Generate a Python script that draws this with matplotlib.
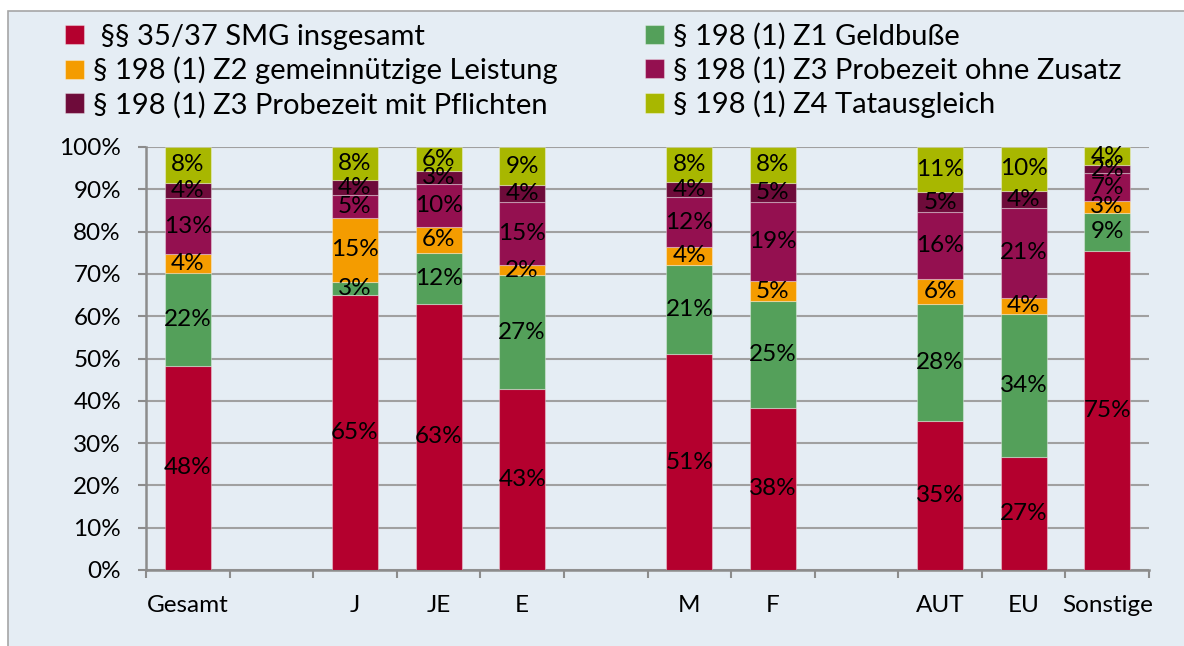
import numpy as np
import matplotlib.pyplot as plt
from matplotlib.patches import Rectangle

plt.rcParams["font.family"] = ["Lato", "DejaVu Sans"]

# ── data (shares in %) ────────────────────────────────────────────────────
categories = ["Gesamt", "J", "JE", "E", "M", "F", "AUT", "EU", "Sonstige"]
slots      = [0, 2, 3, 4, 6, 7, 9, 10, 11]   # empty slots separate the groups

series_names = [" §§ 35/37 SMG insgesamt",
                "§ 198 (1) Z1 Geldbuße",
                "§ 198 (1) Z2 gemeinnützige Leistung",
                "§ 198 (1) Z3 Probezeit ohne Zusatz",
                "§ 198 (1) Z3 Probezeit mit Pflichten",
                "§ 198 (1) Z4 Tatausgleich"]

smg_total    = [48.3, 65.0, 62.9, 42.8, 51.0, 38.4, 35.3, 26.8, 75.4]
z1_fine      = [22.0,  3.2, 12.1, 26.9, 21.1, 25.2, 27.7, 33.7,  9.1]
z2_service   = [ 4.4, 15.1,  6.2,  2.4,  4.3,  4.7,  5.7,  3.9,  2.7]
z3_probation = [13.2,  5.4, 10.0, 15.0, 11.7, 18.7, 15.9, 21.1,  6.6]
z3_duties    = [ 3.7,  3.6,  3.1,  3.9,  3.6,  4.6,  4.7,  4.2,  1.9]
z4_mediation = [ 8.4,  7.7,  5.7,  9.0,  8.3,  8.4, 10.7, 10.3,  4.3]

colors = ["#B4002E", "#54A05A", "#F49C00", "#941050", "#6E0B3A", "#A8B700"]
bg = "#E5EDF4"

fig = plt.figure(figsize=(11.84, 6.46), dpi=100)
fig.patch.set_facecolor("white")
# framed chart area
fig.patches.append(Rectangle((8 / 1184, -0.01), 1.0, 1 - 11 / 646 + 0.01,
                             transform=fig.transFigure, facecolor=bg,
                             edgecolor="#A6A6A6", lw=1.2, zorder=-10))

ax = fig.add_axes([146 / 1184, 1 - 570 / 646, (1149 - 146) / 1184, (570 - 147) / 646])
ax.patch.set_alpha(0)

bottom = np.zeros(len(categories))
handles = []
for name, vals, col in zip(series_names,
                           [smg_total, z1_fine, z2_service, z3_probation, z3_duties, z4_mediation],
                           colors):
    vals = np.array(vals)
    bars = ax.bar(slots, vals, width=0.55, bottom=bottom, color=col,
                  edgecolor=(1, 1, 1, 0.35), lw=0.8, label=name, zorder=3)
    ax.bar_label(bars, labels=[f"{v:.0f}%" for v in vals], label_type="center",
                 fontsize=17.5, color="black", zorder=4)
    bottom += vals
    handles.append(bars)

ax.set_xlim(-0.5, 11.5)
ax.set_ylim(0, 100)
ax.set_yticks(np.arange(0, 101, 10))
ax.set_yticklabels([f"{t}%" for t in range(0, 101, 10)], fontsize=17.5)
ax.set_xticks(slots)
ax.set_xticklabels(categories, fontsize=17.5)
ax.set_xticks(np.arange(-0.5, 12, 1), minor=True)
ax.tick_params(axis="x", which="major", length=0, pad=18)
ax.tick_params(axis="x", which="minor", length=6, width=1.5, color="#8C8C8C")
ax.tick_params(axis="y", length=6, width=1.5, color="#8C8C8C", pad=12)
ax.grid(axis="y", color="#A0A0A0", lw=1.5, zorder=1)
for s in ["top", "right"]:
    ax.spines[s].set_visible(False)
for s in ["left", "bottom"]:
    ax.spines[s].set_color("#8C8C8C")
    ax.spines[s].set_linewidth(1.8)

order = [0, 2, 4, 1, 3, 5]
fig.legend([handles[i] for i in order], [series_names[i] for i in order],
           ncol=2, loc="upper left", bbox_to_anchor=(65 / 1184, 1 - 23 / 646),
           frameon=False, fontsize=21, handlelength=0.65, handleheight=0.65,
           handletextpad=0.3, columnspacing=3.0, labelspacing=0.24,
           borderaxespad=0, borderpad=0)

fig.savefig("out.png", dpi=100, facecolor=fig.get_facecolor())
